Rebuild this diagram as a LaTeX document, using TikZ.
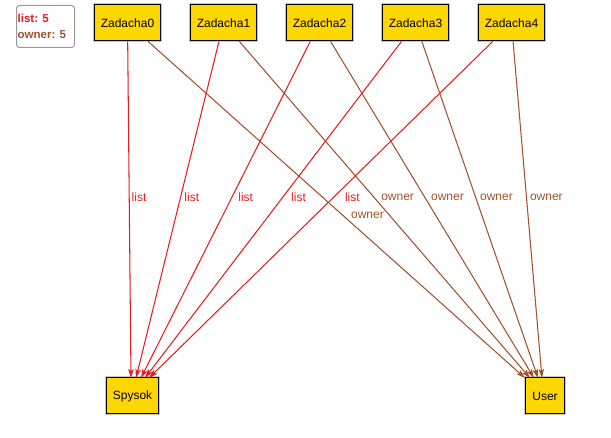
\documentclass[tikz,border=0pt]{standalone}
\usepackage{fontspec}
\setmainfont{Liberation Sans}
\usetikzlibrary{arrows.meta}
\definecolor{lred}{RGB}{228,30,30}
\definecolor{obrown}{RGB}{160,82,45}
\definecolor{boxgold}{RGB}{255,215,0}
\definecolor{halo}{RGB}{200,200,200}
\tikzset{
  entity/.style={draw=black, line width=1pt, fill=boxgold,
    preaction={draw=halo, line width=3pt},
    minimum height=36pt, inner xsep=6.5pt, inner ysep=0pt,
    font=\fontsize{12}{14}\selectfont},
  listedge/.style={draw=lred, line width=1.05pt, -{Stealth[length=9pt,width=5.5pt,inset=2pt]}},
  owneredge/.style={draw=obrown, line width=1.05pt, -{Stealth[length=9pt,width=5.5pt,inset=2pt]}},
  listlbl/.style={text=lred, anchor=west, inner sep=0pt, font=\fontsize{12}{14}\selectfont},
  ownerlbl/.style={text=obrown, anchor=west, inner sep=0pt, font=\fontsize{12}{14}\selectfont},
  legendbox/.style={draw=gray!80, line width=1pt, rounded corners=3pt, fill=white,
    minimum width=58pt, minimum height=42pt, inner sep=0pt, anchor=north west},
  legendtxt/.style={anchor=west, inner sep=0pt, font=\bfseries\fontsize{11.5}{13}\selectfont}
}
\begin{document}
\begin{tikzpicture}[x=1pt, y=-1pt]
\useasboundingbox (0,0) rectangle (611,438);
% legend
\node[legendbox] (lg) at (16,5) {};
\node[legendtxt, text=lred] (lg1) at (17.5,18.3) {list: 5};
\node[legendtxt, text=obrown] (lg2) at (17.5,35) {owner: 5};
% nodes
\node[entity] (z0) at (127.5,23) {Zadacha0};
\node[entity] (z1) at (223.5,23) {Zadacha1};
\node[entity] (z2) at (319.5,23) {Zadacha2};
\node[entity] (z3) at (415.5,23) {Zadacha3};
\node[entity] (z4) at (511.5,23) {Zadacha4};
\node[entity] (sp) at (132.5,396) {Spysok};
\node[entity] (us) at (545,396) {User};
% target points
\coordinate (s0) at (131,378);
\coordinate (s1) at (136,378);
\coordinate (s2) at (141,378);
\coordinate (s3) at (145,378);
\coordinate (s4) at (149,378);
\coordinate (u0) at (525,378);
\coordinate (u1) at (530,378);
\coordinate (u2) at (534,378);
\coordinate (u3) at (538,378);
\coordinate (u4) at (542,378);
% list edges
\draw[listedge] (z0) -- (s0) node[listlbl, pos=.463, xshift=2pt] (l0) {list};
\draw[listedge] (z1) -- (s1) node[listlbl, pos=.463, xshift=3.4pt] (l1) {list};
\draw[listedge] (z2) -- (s2) node[listlbl, pos=.463, xshift=6pt] (l2) {list};
\draw[listedge] (z3) -- (s3) node[listlbl, pos=.463, xshift=8pt] (l3) {list};
\draw[listedge] (z4) -- (s4) node[listlbl, pos=.463, xshift=11pt] (l4) {list};
% owner edges
\draw[owneredge] (z0) -- (u0) node[ownerlbl, pos=.516, xshift=8pt] (o0) {owner};
\draw[owneredge] (z1) -- (u1) node[ownerlbl, pos=.463, xshift=6.8pt] (o1) {owner};
\draw[owneredge] (z2) -- (u2) node[ownerlbl, pos=.463, xshift=5.8pt] (o2) {owner};
\draw[owneredge] (z3) -- (u3) node[ownerlbl, pos=.463, xshift=4pt] (o3) {owner};
\draw[owneredge] (z4) -- (u4) node[ownerlbl, pos=.463, xshift=3pt] (o4) {owner};
\end{tikzpicture}
\end{document}
